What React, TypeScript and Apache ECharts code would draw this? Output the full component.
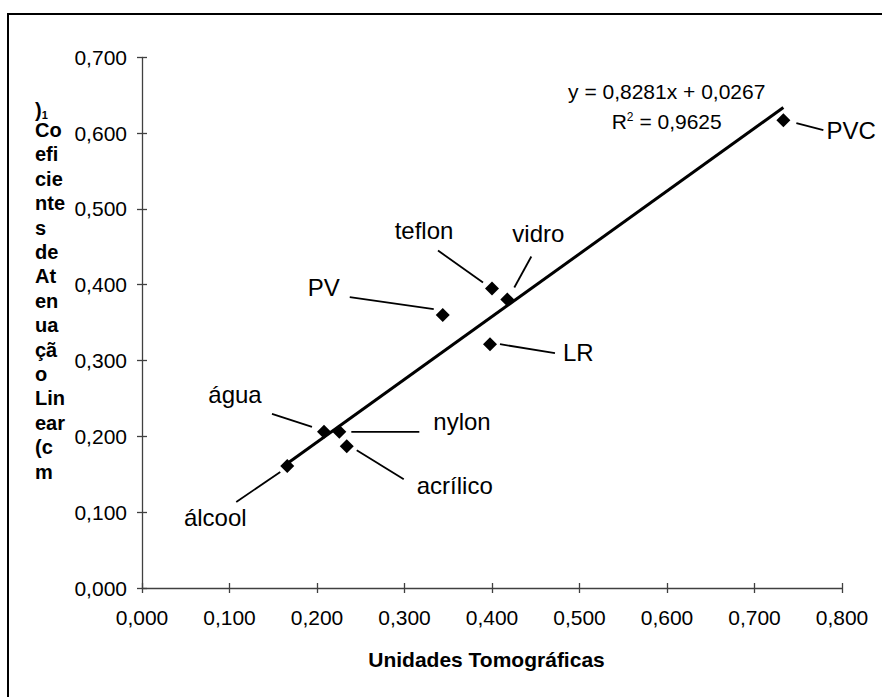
import React, { useEffect, useRef } from "react";
import * as echarts from "echarts";

const materials = ["álcool", "água", "nylon", "acrílico", "PV", "teflon", "vidro", "LR", "PVC"];
const unidadesTomograficas = [0.166, 0.208, 0.2255, 0.234, 0.3437, 0.4, 0.4175, 0.3977, 0.733];
const coeficientesAtenuacao = [0.161, 0.206, 0.206, 0.187, 0.36, 0.395, 0.3806, 0.3216, 0.617];

const trendSlope = 0.8281;
const trendIntercept = 0.0267;
const equationText = "y = 0,8281x + 0,0267";
const r2Value = "0,9625";

const xTickLabels = ["0,000", "0,100", "0,200", "0,300", "0,400", "0,500", "0,600", "0,700", "0,800"];
const yTickLabels = ["0,000", "0,100", "0,200", "0,300", "0,400", "0,500", "0,600", "0,700"];

const xTitle = "Unidades Tomográficas";
const yTitleLines = ["Co", "efi", "cie", "nte", "s", "de", "At", "en", "ua", "çã", "o", "Lin", "ear", "(c", "m"];

// label layout (pixel offsets from each point): leader start, leader end, text anchor, align
const labelLayout: { start: number[]; end: number[]; text: number[]; align: string }[] = [
  { start: [-7, 6], end: [-51, 36], text: [-72, 52], align: "center" },
  { start: [-12, -5], end: [-52, -18], text: [-89, -37], align: "center" },
  { start: [12, 0], end: [80, 0], text: [94, -10], align: "left" },
  { start: [10, 4], end: [57, 33], text: [70, 39], align: "left" },
  { start: [-9, -6], end: [-93, -18], text: [-119, -28], align: "center" },
  { start: [-9, -6], end: [-54, -38], text: [-68, -58], align: "center" },
  { start: [7, -12], end: [24, -43], text: [31, -66], align: "center" },
  { start: [10, 0], end: [65, 9], text: [73, 8], align: "left" },
  { start: [13, 3], end: [40, 10], text: [43, 10], align: "left" },
];

const FONT = "'Liberation Sans', Arial, sans-serif";

export default function App() {
  const ref = useRef<HTMLDivElement>(null);

  useEffect(() => {
    if (!ref.current) return;
    const chart = echarts.init(ref.current, null, { renderer: "svg" });

    const points = unidadesTomograficas.map((x, i) => [x, coeficientesAtenuacao[i]]);
    const xMin = Math.min(...unidadesTomograficas);
    const xMax = Math.max(...unidadesTomograficas);
    const trend = [
      [xMin, trendSlope * xMin + trendIntercept],
      [xMax, trendSlope * xMax + trendIntercept],
    ];

    const axisLineStyle = { color: "#404040", width: 1.3 };

    const yTitleGraphics: any[] = [
      {
        type: "text",
        x: 35,
        y: 110,
        style: {
          text: "{p|)}{s|1}",
          verticalAlign: "middle",
          rich: {
            p: { fontSize: 20, fontWeight: "bold", fontFamily: FONT, fill: "#000" },
            s: { fontSize: 11, fontWeight: "bold", fontFamily: FONT, fill: "#000", verticalAlign: "bottom" },
          },
        },
      },
      ...yTitleLines.map((t, i) => ({
        type: "text",
        x: 35,
        y: 130 + i * 24.4,
        style: {
          text: t,
          fontSize: 20,
          fontWeight: "bold",
          fontFamily: FONT,
          fill: "#000",
          align: "left",
          verticalAlign: "middle",
        },
      })),
    ];

    chart.setOption({
      animation: false,
      backgroundColor: "#fff",
      grid: { left: 142, top: 57.3, width: 700, height: 530.7, containLabel: false },
      xAxis: [
        {
          type: "value",
          min: 0,
          max: 0.8,
          interval: 0.1,
          position: "bottom",
          axisLine: { show: true, onZero: false, lineStyle: axisLineStyle },
          axisTick: { show: true, inside: false, length: 5, lineStyle: axisLineStyle },
          axisLabel: {
            show: true,
            margin: 19,
            fontSize: 21,
            fontFamily: FONT,
            color: "#000",
            formatter: (v: number) => xTickLabels[Math.round(v / 0.1)],
          },
          splitLine: { show: false },
        },
        {
          type: "value",
          min: 0,
          max: 0.8,
          interval: 0.1,
          position: "bottom",
          axisLine: { show: false, onZero: false },
          axisTick: { show: true, inside: true, length: 5, lineStyle: axisLineStyle },
          axisLabel: { show: false },
          splitLine: { show: false },
        },
      ],
      yAxis: [
        {
          type: "value",
          min: 0,
          max: 0.7,
          interval: 0.1,
          position: "left",
          axisLine: { show: true, onZero: false, lineStyle: axisLineStyle },
          axisTick: { show: true, inside: false, length: 5, lineStyle: axisLineStyle },
          axisLabel: {
            show: true,
            margin: 15,
            fontSize: 21,
            fontFamily: FONT,
            color: "#000",
            formatter: (v: number) => yTickLabels[Math.round(v / 0.1)],
          },
          splitLine: { show: false },
        },
        {
          type: "value",
          min: 0,
          max: 0.7,
          interval: 0.1,
          position: "left",
          axisLine: { show: false, onZero: false },
          axisTick: { show: true, inside: true, length: 5, lineStyle: axisLineStyle },
          axisLabel: { show: false },
          splitLine: { show: false },
        },
      ],
      series: [
        {
          type: "line",
          data: trend,
          showSymbol: false,
          symbol: "none",
          lineStyle: { color: "#000", width: 3 },
          silent: true,
          z: 2,
        },
        {
          type: "custom",
          data: points,
          z: 3,
          renderItem: (params: any, api: any) => {
            const i = params.dataIndex;
            const p = api.coord([api.value(0), api.value(1)]);
            const c = labelLayout[i];
            return {
              type: "group",
              children: [
                {
                  type: "line",
                  shape: {
                    x1: p[0] + c.start[0],
                    y1: p[1] + c.start[1],
                    x2: p[0] + c.end[0],
                    y2: p[1] + c.end[1],
                  },
                  style: { stroke: "#000", lineWidth: 1.8 },
                },
                {
                  type: "text",
                  x: p[0] + c.text[0],
                  y: p[1] + c.text[1],
                  style: {
                    text: materials[i],
                    fontSize: 24,
                    fontFamily: FONT,
                    fill: "#000",
                    align: c.align,
                    verticalAlign: "middle",
                  },
                },
              ],
            };
          },
        },
        {
          type: "scatter",
          data: points,
          symbol: "diamond",
          symbolSize: 14,
          itemStyle: { color: "#000", opacity: 1 },
          z: 4,
        },
      ],
      graphic: [
        {
          type: "rect",
          shape: { x: 8, y: 14, width: 900, height: 720 },
          style: { fill: "none", stroke: "#000", lineWidth: 2 },
          silent: true,
        },
        {
          type: "text",
          x: 666.7,
          y: 91.7,
          style: {
            text: equationText,
            fontSize: 21,
            fontFamily: FONT,
            fill: "#000",
            align: "center",
            verticalAlign: "middle",
          },
        },
        {
          type: "text",
          x: 666.7,
          y: 121.7,
          style: {
            text: "R{s|2} = " + r2Value,
            fontSize: 21,
            fontFamily: FONT,
            fill: "#000",
            align: "center",
            verticalAlign: "middle",
            rich: {
              s: { fontSize: 12, fontFamily: FONT, fill: "#000", verticalAlign: "top" },
            },
          },
        },
        {
          type: "text",
          x: 486.5,
          y: 659,
          style: {
            text: xTitle,
            fontSize: 21,
            fontWeight: "bold",
            fontFamily: FONT,
            fill: "#000",
            align: "center",
            verticalAlign: "middle",
          },
        },
        ...yTitleGraphics,
      ],
    });

    return () => chart.dispose();
  }, []);

  return (
    <div
      ref={ref}
      style={{ position: "absolute", left: 0, top: 0, width: 882, height: 697 }}
    />
  );
}
